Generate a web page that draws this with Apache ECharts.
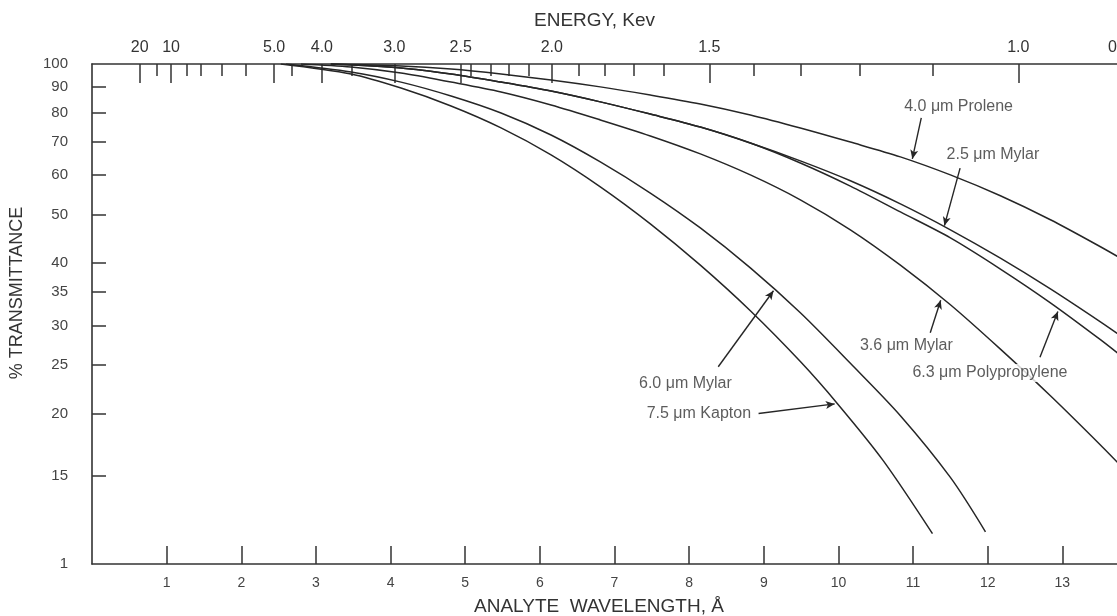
<!DOCTYPE html>
<html>
<head>
<meta charset="utf-8">
<script src="https://cdn.jsdelivr.net/npm/echarts@6/dist/echarts.min.js"></script>
<style>
html,body{margin:0;padding:0;background:#fff;overflow:hidden;}
#c{width:1140px;height:616px;}
</style>
</head>
<body>
<div id="c"></div>
<script>
// ---- data ----
const wavelengthTicks = [1,2,3,4,5,6,7,8,9,10,11,12,13];
const transTicks = [15,20,25,30,35,40,50,60,70,80,90];
const transLabels = [10,15,20,25,30,35,40,50,60,70,80,90,100];
const energyMajorPos = [0.64,1.06,2.44,3.08,4.05,4.94,6.16,8.27,12.41,13.76];
const energyMajorLabels = ['20','10','5.0','4.0','3.0','2.5','2.0','1.5','1.0','0.9'];
const energyMinorPos = [0.87,1.27,1.46,1.74,2.06,2.68,3.48,5.07,5.34,5.58,5.85,6.52,6.87,7.26,7.66,8.86,9.50,10.29,11.27];

const prolene40 = [[3.20,100],[4.14,99.1],[4.81,97.7],[5.48,95.5],[6.15,92.9],[6.81,90.0],[7.48,86.7],[8.15,83.2],[8.82,79.1],[9.49,74.5],[10.16,69.8],[10.83,65.2],[11.50,60.0],[12.17,54.5],[12.84,48.8],[13.51,43.1],[13.84,40.4]];
const mylar25 = [[3.20,100],[4.14,98.2],[4.81,95.5],[5.48,92.0],[6.15,88.3],[6.81,84.0],[7.48,79.4],[8.15,74.8],[8.82,69.5],[9.49,64.0],[10.16,58.4],[10.83,52.5],[11.50,46.6],[12.17,40.9],[12.84,35.5],[13.51,30.5],[13.84,28.2]];
const polyprop63 = [[3.20,100],[4.14,98.2],[4.81,95.5],[5.48,92.0],[6.15,88.3],[6.81,84.0],[7.48,79.4],[8.15,74.8],[8.82,69.5],[9.49,63.4],[10.16,57.0],[10.83,50.6],[11.50,44.9],[12.17,38.9],[12.84,33.3],[13.51,28.1],[13.84,25.7]];
const mylar36 = [[2.80,100],[3.47,98.6],[4.14,95.9],[4.81,92.0],[5.48,87.9],[6.15,82.8],[6.81,77.3],[7.48,71.8],[8.15,66.1],[8.82,60.0],[9.49,53.5],[10.16,46.6],[10.83,39.6],[11.50,33.0],[12.17,26.9],[12.84,21.7],[13.51,17.3],[13.84,15.4]];
const mylar60 = [[2.60,100],[3.47,96.4],[4.14,92.0],[4.81,86.3],[5.48,79.8],[6.15,72.1],[6.81,63.7],[7.48,55.2],[8.15,47.0],[8.82,39.1],[9.49,31.8],[10.16,25.2],[10.83,19.8],[11.50,14.9],[11.97,11.6]];
const kapton75 = [[2.53,100],[3.47,95.5],[4.14,89.5],[4.81,82.4],[5.48,74.5],[6.15,65.8],[6.81,56.8],[7.48,47.9],[8.15,39.6],[8.82,32.1],[9.49,25.4],[9.99,20.9],[10.60,16.1],[11.26,11.5]];

const annoText = ['4.0 μm Prolene','2.5 μm Mylar','3.6 μm Mylar','6.3 μm Polypropylene','6.0 μm Mylar','7.5 μm Kapton'];
const annoTextPos = [[11.61,82.0],[12.07,65.8],[10.91,27.4],[12.03,24.1],[7.95,23.0],[8.13,20.0]];
const annoArrowFrom = [[11.11,78.0],[11.63,61.9],[11.23,29.0],[12.70,25.9],[8.39,24.8],[8.93,20.0]];
const annoArrowTo = [[10.99,64.6],[11.42,47.5],[11.37,33.7],[12.94,32.0],[9.13,35.2],[9.95,20.9]];

// ---- chart ----
const FONT = "'Liberation Sans', Arial, Helvetica, sans-serif";
const INK = '#262626';
const chart = echarts.init(document.getElementById('c'), null, {renderer:'canvas'});

const curves = [
  ['4.0 μm Prolene', prolene40],
  ['2.5 μm Mylar', mylar25],
  ['6.3 μm Polypropylene', polyprop63],
  ['3.6 μm Mylar', mylar36],
  ['6.0 μm Mylar', mylar60],
  ['7.5 μm Kapton', kapton75]
];

const series = curves.map(([name, data]) => ({
  name, type:'line', data, smooth:0.3, showSymbol:false, symbol:'none',
  lineStyle:{color:INK, width:1.5}, xAxisIndex:0, yAxisIndex:0, z:2, silent:true
}));

series.push({
  name:'arrows', type:'line', data:[], xAxisIndex:0, yAxisIndex:0, silent:true,
  markLine:{
    silent:true, symbol:['none','arrow'], symbolSize:[6,9],
    lineStyle:{color:INK, width:1.4, type:'solid'},
    label:{show:false},
    data: annoArrowFrom.map((p,i)=>[{coord:p},{coord:annoArrowTo[i]}])
  }
});

series.push({
  name:'labels', type:'scatter', xAxisIndex:0, yAxisIndex:0, symbolSize:0, silent:true, z:5,
  data: annoText.map((t,i)=>({value:annoTextPos[i], name:t})),
  label:{show:true, position:'inside', formatter:p=>p.name, color:'#333', fontSize:16, fontFamily:FONT,
         backgroundColor:'#fff', padding:[1,2]}
});

chart.setOption({
  animation:false,
  backgroundColor:'#fff',
  title:[
    {text:'ENERGY, Kev', left:529, top:6, textStyle:{fontSize:19, fontWeight:'normal', color:'#333', fontFamily:FONT}},
    {text:'ANALYTE  WAVELENGTH, Å', left:469, top:592, textStyle:{fontSize:19, fontWeight:'normal', color:'#333', fontFamily:FONT}}
  ],
  grid:{left:91, right:3, top:64, bottom:52},
  xAxis:[
    {type:'value', position:'bottom', min:0, max:14,
     axisLine:{show:true, lineStyle:{color:'#333', width:1.6}},
     axisTick:{show:true, inside:true, length:18, customValues:wavelengthTicks, lineStyle:{color:'#333', width:1.5}},
     axisLabel:{show:true, customValues:wavelengthTicks, margin:12, color:'#444', fontSize:14, fontFamily:FONT},
     splitLine:{show:false}},
    {type:'value', position:'top', min:0, max:14,
     axisLine:{show:true, lineStyle:{color:'#333', width:1.6}},
     axisTick:{show:true, inside:true, length:19, customValues:energyMajorPos, lineStyle:{color:'#333', width:1.5}},
     axisLabel:{show:true, customValues:energyMajorPos, margin:8, color:'#333', fontSize:16, fontFamily:FONT,
       formatter:v=>{let b=0,d=1e9;energyMajorPos.forEach((p,i)=>{if(Math.abs(p-v)<d){d=Math.abs(p-v);b=i;}});return energyMajorLabels[b];}},
     splitLine:{show:false}},
    {type:'value', position:'top', min:0, max:14,
     axisLine:{show:false},
     axisTick:{show:true, inside:true, length:12, customValues:energyMinorPos, lineStyle:{color:'#333', width:1.5}},
     axisLabel:{show:false},
     splitLine:{show:false}}
  ],
  yAxis:[
    {type:'log', logBase:10, min:10, max:100, position:'left',
     name:'% TRANSMITTANCE', nameLocation:'middle', nameGap:66, nameRotate:90,
     nameTextStyle:{fontSize:18, color:'#333', fontFamily:FONT, padding:[0,0,0,42]},
     axisLine:{show:true, lineStyle:{color:'#333', width:1.6}},
     axisTick:{show:true, inside:true, length:14, customValues:transTicks, lineStyle:{color:'#333', width:1.5}},
     axisLabel:{show:true, customValues:transLabels, margin:24, color:'#444', fontSize:15, fontFamily:FONT,
       padding:[0,0,6,0],
       formatter:v=> (Math.abs(v-10)<1e-6 ? '1' : String(Math.round(v)))},
     splitLine:{show:false}}
  ],
  series
});
</script>
</body>
</html>
